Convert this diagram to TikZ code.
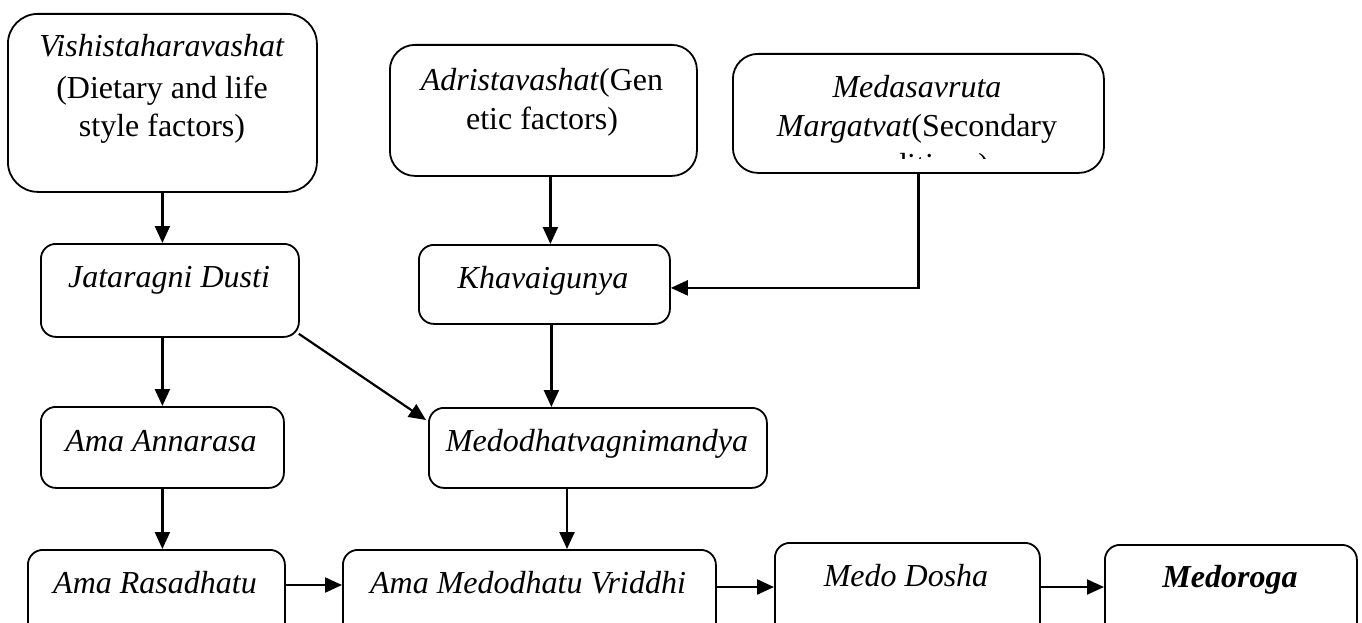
\documentclass[tikz,border=0pt]{standalone}
\usepackage{fontspec}
\setmainfont{Liberation Serif}
\usetikzlibrary{arrows.meta,calc}
\begin{document}
\begin{tikzpicture}[x=1pt,y=-1pt,
 box/.style={draw,line width=1.8pt,rounded corners=#1,anchor=north west,inner sep=0pt},
 box/.default=15pt,
 txt/.style={anchor=base,inner sep=0pt,font=\fontsize{32}{39}\selectfont},
 arr/.style={line width=2.2pt,-{Triangle[length=17pt,width=15pt]}}]
\useasboundingbox (0,0) rectangle (1362,623);
\clip (0,0) rectangle (1362,623);
% boxes
\node[box=30pt,minimum width=309pt,minimum height=178pt] (V) at (7,13) {};
\node[box=25pt,minimum width=307pt,minimum height=131pt] (A) at (389,44) {};
\node[box=25pt,minimum width=371pt,minimum height=119pt] (S) at (732,53) {};
\node[box,minimum width=258pt,minimum height=93pt] (J) at (40,243) {};
\node[box,minimum width=251pt,minimum height=79pt] (K) at (418,244) {};
\node[box,minimum width=243pt,minimum height=81pt] (AA) at (40,406) {};
\node[box,minimum width=338pt,minimum height=80pt] (M) at (428,407) {};
\node[box,minimum width=257pt,minimum height=100pt] (R) at (27,549) {};
\node[box,minimum width=373pt,minimum height=100pt] (W) at (342,549) {};
\node[box,minimum width=265pt,minimum height=100pt] (D) at (774,542) {};
\node[box,minimum width=252pt,minimum height=100pt] (G) at (1104,544) {};
% texts
\node[txt] (v1) at (162,57) {\textit{Vishistaharavashat}};
\node[txt] (v2) at (162,99) {(Dietary and life};
\node[txt] (v3) at (162,137) {style factors)};
\node[txt] (a1) at (542,91) {\textit{Adristavashat}(Gen};
\node[txt] (a2) at (542,130) {etic factors)};
\node[txt] (s1) at (917,98) {\textit{Medasavruta}};
\node[txt] (s2) at (917,137) {\textit{Margatvat}(Secondary};
\begin{scope}
\clip (733,140) rectangle (1102,158);
\node[txt] (s3) at (917,175) {conditions)};
\end{scope}
\node[txt] (j1) at (169,287) {\textit{Jataragni Dusti}};
\node[txt] (k1) at (543,288) {\textit{Khavaigunya}};
\node[txt] (aa1) at (161,451) {\textit{Ama Annarasa}};
\node[txt] (m1) at (597,451) {\textit{Medodhatvagnimandya}};
\node[txt] (r1) at (155,593) {\textit{Ama Rasadhatu}};
\node[txt] (w1) at (528,593) {\textit{Ama Medodhatu Vriddhi}};
\node[txt] (d1) at (906,586) {\textit{Medo Dosha}};
\node[txt] (g1) at (1230,587) {\textbf{\textit{Medoroga}}};
% connector helpers
\coordinate (pa) at ($(A.south)+(7,0)$);
\coordinate (pk) at ($(K.south)+(7,0)$);
\coordinate (pke) at ($(K.east)+(0,3.5)$);
\coordinate (pj) at ($(J.south east)+(-1,-4)$);
\coordinate (pm) at ($(M.north west)+(-2,13)$);
\coordinate (pms) at ($(M.south west)+(139,0)$);
\coordinate (pr) at ($(R.north east)+(0,36)$);
\coordinate (pw) at ($(W.north east)+(0,38)$);
\coordinate (pd) at ($(D.north east)+(0,45)$);
% arrows
\draw[arr] (V.south) -- (V.south |- J.north);
\draw[arr] (pa) -- (pa |- K.north);
\draw[arr] (S.south) |- (pke);
\draw[arr] (AA.north |- J.south) -- (AA.north);
\draw[arr] (pj) -- (pm);
\draw[arr] (pk) -- (pk |- M.north);
\draw[arr] (AA.south) -- (AA.south |- R.north);
\draw[arr] (pms) -- (pms |- W.north);
\draw[arr] (pr) -- (pr -| W.west);
\draw[arr] (pw) -- (pw -| D.west);
\draw[arr] (pd) -- (pd -| G.west);
\end{tikzpicture}
\end{document}
